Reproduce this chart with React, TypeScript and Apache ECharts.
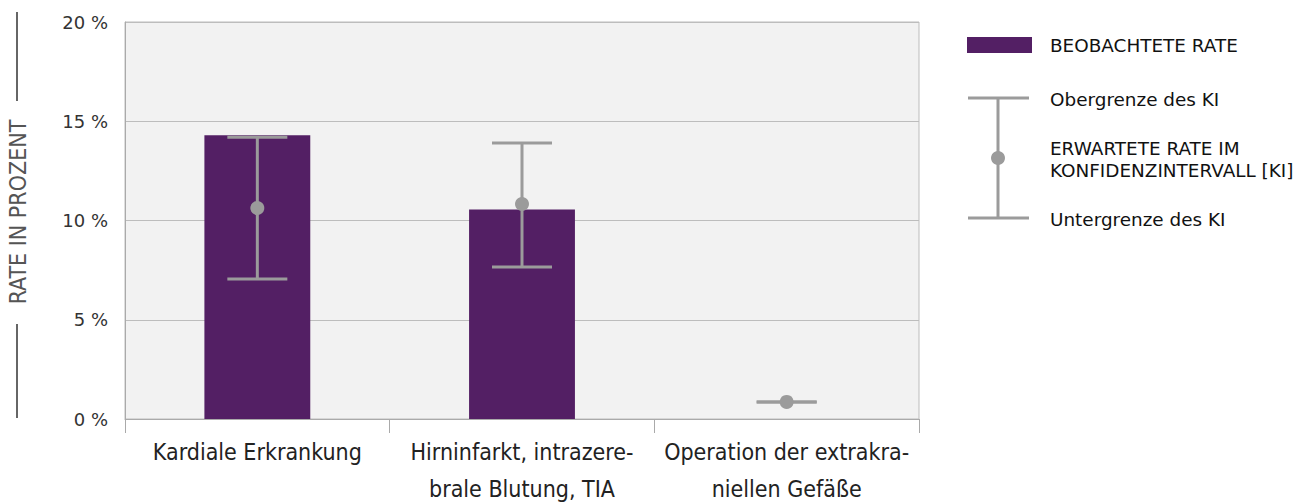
import React, { useEffect, useRef } from "react";
import * as echarts from "echarts";

const categories = [
  "Kardiale Erkrankung",
  "Hirninfarkt, intrazere-\nbrale Blutung, TIA",
  "Operation der extrakra-\nniellen Gefäße",
];
const observedRate = [14.3, 10.55, 0];
const expectedRate = [10.63, 10.83, 0.86];
const ciLower = [7.05, 7.66, 0.86];
const ciUpper = [14.2, 13.9, 0.86];

const BAR_COLOR = "#531f64";
const ERR_COLOR = "#9b9b9b";
const COND_FONT = "'DejaVu Sans Condensed', 'Liberation Sans Narrow', 'DejaVu Sans', sans-serif";
const FONT = "'DejaVu Sans', sans-serif";

export default function App() {
  const ref = useRef<HTMLDivElement>(null);
  useEffect(() => {
    if (!ref.current) return;
    const chart = echarts.init(ref.current, null, { renderer: "svg" });
    const errData = categories.map((_, i) => [i, ciLower[i], ciUpper[i], expectedRate[i]]);
    chart.setOption({
      animation: false,
      grid: {
        left: 125,
        top: 22,
        right: 390,
        bottom: 84,
        outerBoundsMode: "none",
        containLabel: false,
        show: true,
        backgroundColor: "#f2f2f2",
        borderColor: "#bdbdbd",
        borderWidth: 1,
      },
      xAxis: {
        type: "category",
        data: categories,
        axisLine: { lineStyle: { color: "#aaaaaa", width: 1 } },
        axisTick: { show: true, length: 14, lineStyle: { color: "#aaaaaa" } },
        axisLabel: {
          interval: 0,
          color: "#222",
          fontFamily: COND_FONT,
          fontSize: 23,
          lineHeight: 37,
          margin: 14,
          hideOverlap: false,
        },
      },
      yAxis: {
        type: "value",
        min: 0,
        max: 20,
        interval: 5,
        axisLine: { show: true, lineStyle: { color: "#aaaaaa" } },
        axisTick: { show: false },
        splitLine: { lineStyle: { color: "#bdbdbd", width: 1 } },
        axisLabel: {
          formatter: "{value} %",
          color: "#333",
          fontFamily: FONT,
          fontSize: 18,
          margin: 17,
        },
      },
      series: [
        {
          type: "bar",
          data: observedRate,
          barWidth: "40%",
          itemStyle: { color: BAR_COLOR },
        },
        {
          type: "custom",
          data: errData,
          z: 10,
          renderItem: (params: any, api: any) => {
            const x = api.value(0);
            const lo = api.coord([x, api.value(1)]);
            const hi = api.coord([x, api.value(2)]);
            const mid = api.coord([x, api.value(3)]);
            const half = 30;
            const style = { stroke: ERR_COLOR, lineWidth: 3 };
            return {
              type: "group",
              children: [
                { type: "line", shape: { x1: hi[0], y1: hi[1], x2: lo[0], y2: lo[1] }, style },
                { type: "line", shape: { x1: hi[0] - half, y1: hi[1], x2: hi[0] + half, y2: hi[1] }, style },
                { type: "line", shape: { x1: lo[0] - half, y1: lo[1], x2: lo[0] + half, y2: lo[1] }, style },
                { type: "circle", shape: { cx: mid[0], cy: mid[1], r: 7 }, style: { fill: ERR_COLOR } },
              ],
            };
          },
        },
      ],
      graphic: [
        // y-axis title with side lines
        { type: "line", shape: { x1: 17, y1: 12, x2: 17, y2: 101 }, style: { stroke: "#666", lineWidth: 2 } },
        { type: "line", shape: { x1: 17, y1: 324, x2: 17, y2: 418 }, style: { stroke: "#666", lineWidth: 2 } },
        {
          type: "text",
          x: 18,
          y: 212,
          rotation: Math.PI / 2,
          style: {
            text: "RATE IN PROZENT",
            fill: "#555",
            font: `23px ${COND_FONT}`,
            align: "center",
            verticalAlign: "middle",
          },
        },
        // legend
        { type: "rect", shape: { x: 967, y: 37, width: 65, height: 16 }, style: { fill: BAR_COLOR } },
        { type: "line", shape: { x1: 998, y1: 98, x2: 998, y2: 218 }, style: { stroke: ERR_COLOR, lineWidth: 3 } },
        { type: "line", shape: { x1: 968, y1: 98, x2: 1029, y2: 98 }, style: { stroke: ERR_COLOR, lineWidth: 3 } },
        { type: "line", shape: { x1: 968, y1: 218, x2: 1029, y2: 218 }, style: { stroke: ERR_COLOR, lineWidth: 3 } },
        { type: "circle", shape: { cx: 998, cy: 158, r: 7 }, style: { fill: ERR_COLOR } },
        { type: "text", x: 1050, y: 45, style: { text: "BEOBACHTETE RATE", fill: "#111", font: `18.4px ${FONT}`, verticalAlign: "middle" } },
        { type: "text", x: 1050, y: 99, style: { text: "Obergrenze des KI", fill: "#111", font: `18.4px ${FONT}`, verticalAlign: "middle" } },
        { type: "text", x: 1050, y: 148, style: { text: "ERWARTETE RATE IM", fill: "#111", font: `18.4px ${FONT}`, verticalAlign: "middle" } },
        { type: "text", x: 1050, y: 170, style: { text: "KONFIDENZINTERVALL [KI]", fill: "#111", font: `18.4px ${FONT}`, verticalAlign: "middle" } },
        { type: "text", x: 1050, y: 219, style: { text: "Untergrenze des KI", fill: "#111", font: `18.4px ${FONT}`, verticalAlign: "middle" } },
      ],
    });
    return () => chart.dispose();
  }, []);
  return <div ref={ref} style={{ width: 1309, height: 503, position: "absolute", left: 0, top: 0 }} />;
}
